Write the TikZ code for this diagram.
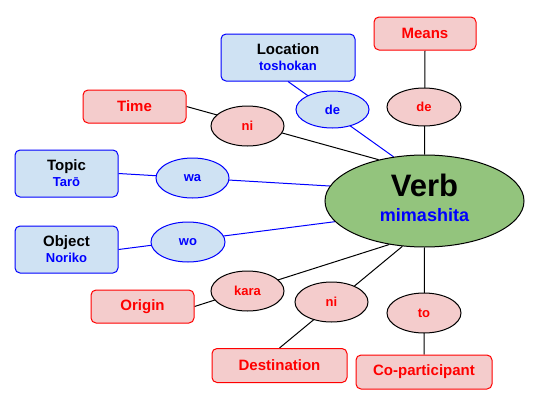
\documentclass[tikz,border=0pt]{standalone}
\usepackage{fontspec}
\setmainfont{Liberation Sans}
\usetikzlibrary{shapes.geometric,backgrounds}
\definecolor{redfill}{HTML}{F4CCCC}
\definecolor{bluefill}{HTML}{CFE2F3}
\definecolor{greenfill}{HTML}{93C47D}
\definecolor{txtred}{HTML}{FF0000}
\definecolor{txtblue}{HTML}{0000FF}
\tikzset{
  redbox/.style={draw=txtred, fill=redfill, rounded corners=5pt, line width=1pt, inner sep=0pt,
    text=txtred, font=\bfseries\fontsize{15}{18}\selectfont},
  bluebox/.style={draw=txtblue, fill=bluefill, rounded corners=5pt, line width=1pt, inner sep=0pt,
    align=center, font=\bfseries\fontsize{15}{16}\selectfont},
  redell/.style={ellipse, draw=black, fill=redfill, line width=1pt, inner sep=0pt,
    minimum width=74pt, minimum height=40pt, text=txtred, font=\bfseries\fontsize{13}{15}\selectfont},
  blueell/.style={ellipse, draw=txtblue, fill=bluefill, line width=1pt, inner sep=0pt,
    minimum width=74pt, minimum height=40pt, text=txtblue, font=\bfseries\fontsize{13}{15}\selectfont},
  verbell/.style={ellipse, draw=black, fill=greenfill, line width=1pt, inner sep=0pt,
    minimum width=199pt, minimum height=92pt, align=center, font=\bfseries\fontsize{31}{25}\selectfont},
  blk/.style={draw=black, line width=1pt},
  blu/.style={draw=txtblue, line width=1pt}
}
\newcommand{\subtxt}[1]{{\color{txtblue}\fontsize{13}{16}\selectfont #1}}
\begin{document}
\begin{tikzpicture}[x=1pt,y=-1pt]
\useasboundingbox (0,0) rectangle (539,405);
% boxes
\node[redbox, minimum width=102pt, minimum height=33pt] (means) at (425,33.5) {Means};
\node[bluebox, minimum width=134pt, minimum height=47pt] (loc) at (288,57.5) {Location\\\subtxt{toshokan}};
\node[redbox, minimum width=103pt, minimum height=33pt] (time) at (134.5,106.5) {Time};
\node[bluebox, minimum width=103pt, minimum height=47pt] (topic) at (66.5,173.5) {Topic\\\subtxt{Tarō}};
\node[bluebox, minimum width=103pt, minimum height=47pt] (object) at (66.5,249.5) {Object\\\subtxt{Noriko}};
\node[redbox, minimum width=103pt, minimum height=33pt] (origin) at (142.5,306.5) {Origin};
\node[redbox, minimum width=135pt, minimum height=34pt] (dest) at (279.5,365.5) {Destination};
\node[redbox, minimum width=136pt, minimum height=34pt] (cop) at (424,372) {Co-participant};
% verb
\node[verbell] (verb) at (424.5,201)
  {Verb\\{\color{txtblue}\fontsize{18}{20}\selectfont mimashita\rule[-6pt]{0pt}{0pt}}};
% particles
\node[redell, minimum height=38pt] (de1) at (424,107) {de};
\node[blueell, minimum width=73pt, minimum height=37pt] (de2) at (332.5,109.5) {de};
\node[redell, minimum width=73pt] (ni1) at (247.5,126) {ni};
\node[blueell, minimum width=73pt] (wa) at (192.5,178) {wa};
\node[blueell] (wo) at (188,242) {wo};
\node[redell, minimum width=73pt] (kara) at (247.5,291) {kara};
\node[redell, minimum width=73pt] (ni2) at (331.5,302) {ni};
\node[redell] (to) at (424,313) {to};
% connectors
\begin{pgfonlayer}{background}
\draw[blk] (means.south) -- (verb.90);
\draw[blu] (loc.south) -- (verb.125.8);
\draw[blk] (time.east) -- (verb.138);
\draw[blu] (topic.east) -- (verb.171);
\draw[blu] (object.east) -- (verb.193.6);
\draw[blk] (origin.east) -- (verb.231.4);
\draw[blk] (dest.north) -- (verb.244.4);
\draw[blk] (cop.north) -- (verb.270);
\end{pgfonlayer}
\end{tikzpicture}
\end{document}
